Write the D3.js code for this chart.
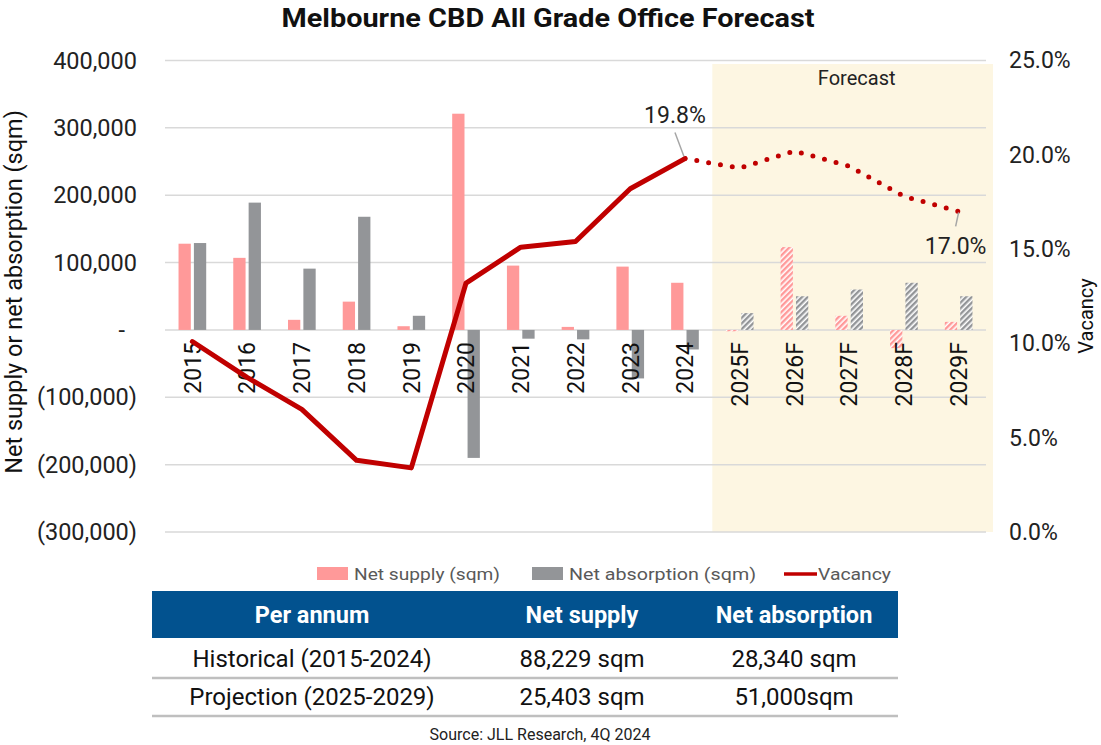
<!DOCTYPE html>
<html>
<head>
<meta charset="utf-8">
<script src="https://cdn.jsdelivr.net/npm/d3@7"></script>
<style>
  html, body { margin: 0; padding: 0; background: #fff; }
  svg { display: block; }
  text { font-family: Roboto, "Noto Sans", sans-serif; }
</style>
</head>
<body>
<script>
// ---------------- DATA ----------------
const categories = ["2015","2016","2017","2018","2019","2020","2021","2022","2023","2024","2025F","2026F","2027F","2028F","2029F"];
const forecastCategories = ["2025F","2026F","2027F","2028F","2029F"];
const netSupply = [128000, 107000, 15000, 42000, 5500, 321000, 95500, 4500, 94000, 70000, -2000, 123000, 21000, -27000, 12000];
const netAbsorption = [129000, 189000, 91000, 168000, 21000, -190000, -13000, -14000, -72000, -29000, 25000, 50000, 60000, 70000, 50000];
const vacancy = [10.1, 8.2, 6.5, 3.8, 3.4, 13.2, 15.1, 15.4, 18.2, 19.8, 19.3, 20.2, 19.4, 17.8, 17.0];
const leftTicks = [-300000, -200000, -100000, 0, 100000, 200000, 300000, 400000];
const rightTicks = [0, 5, 10, 15, 20, 25];
const seriesNames = ["Net supply (sqm)", "Net absorption (sqm)", "Vacancy"];
const tableHeader = ["Per annum", "Net supply", "Net absorption"];
const tableRows = [
  ["Historical (2015-2024)", "88,229 sqm", "28,340 sqm"],
  ["Projection (2025-2029)", "25,403 sqm", "51,000sqm"]
];
const labelledPoints = ["2024", "2029F"];
const titleText = "Melbourne CBD All Grade Office Forecast";
const sourceText = "Source: JLL Research, 4Q 2024";

// ---------------- STYLE ----------------
const W = 1101, H = 745;
const cSupply = "#ff9999", cAbs = "#939598", cVac = "#c00000", cGrid = "#d9d9d9";
const cForecastBg = "#fdf6e2", cHeader = "#02528f";

const svg = d3.select("body").append("svg").attr("width", W).attr("height", H);

const defs = svg.append("defs");
function hatch(id, color) {
  const p = defs.append("pattern").attr("id", id).attr("patternUnits", "userSpaceOnUse")
    .attr("width", 4).attr("height", 4).attr("patternTransform", "rotate(45)");
  p.append("rect").attr("width", 4).attr("height", 4).attr("fill", "#fff");
  p.append("rect").attr("width", 2.4).attr("height", 4).attr("fill", color);
}
hatch("hSupply", cSupply);
hatch("hAbs", cAbs);

// ---------------- SCALES ----------------
const x0 = d3.scaleBand().domain(categories).range([165, 986]).padding(0);
const x1 = d3.scaleBand().domain(["s", "a"]).range([0, x0.bandwidth()]).paddingInner(0.2).paddingOuter(0.88);
const yL = d3.scaleLinear().domain([-300000, 400000]).range([532, 60.5]);
const yR = d3.scaleLinear().domain([0, 25]).range([532, 60.5]);
const xc = c => x0(c) + x0.bandwidth() / 2;

// Forecast background
const f0 = x0(forecastCategories[0]);
svg.append("rect").attr("x", f0).attr("y", yL(400000) + 3.5)
  .attr("width", x0.range()[1] + 7 - f0).attr("height", yL(-300000) - yL(400000) - 3.5)
  .attr("fill", cForecastBg);
svg.append("text").attr("x", f0 + (x0.range()[1] + 7 - f0) / 2 + 4).attr("y", 85)
  .attr("text-anchor", "middle").attr("font-size", 20).attr("fill", "#222").text("Forecast");

// Gridlines
svg.append("g").selectAll("line").data(leftTicks).join("line")
  .attr("x1", x0.range()[0]).attr("x2", x0.range()[1])
  .attr("y1", d => yL(d)).attr("y2", d => yL(d))
  .attr("stroke", cGrid).attr("stroke-width", 1.5);

// Left axis
const fmt = d3.format(",");
const leftAxis = d3.axisLeft(yL).tickValues(leftTicks).tickSize(0).tickPadding(0)
  .tickFormat(d => d > 0 ? fmt(d) : d < 0 ? "(" + fmt(-d) + ")" : "-");
const gL = svg.append("g").attr("transform", "translate(137,0)").call(leftAxis);
gL.select(".domain").remove();
gL.selectAll("text").attr("font-size", 23.5).attr("fill", "#222")
  .attr("font-family", "Roboto, sans-serif")
  .attr("dx", d => d === 0 ? -12 : 0);

// Right axis
const rightAxis = d3.axisRight(yR).tickValues(rightTicks).tickSize(0).tickPadding(0)
  .tickFormat(d => d3.format(".1f")(d) + "%");
const gR = svg.append("g").attr("transform", "translate(1009,0)").call(rightAxis);
gR.select(".domain").remove();
gR.selectAll("text").attr("font-size", 23).attr("fill", "#222").attr("font-family", "Roboto, sans-serif");

// Axis titles
svg.append("text").attr("transform", "translate(22,292) rotate(-90)")
  .attr("text-anchor", "middle").attr("font-size", 23.5).attr("fill", "#111")
  .text("Net supply or net absorption (sqm)");
svg.append("text").attr("transform", "translate(1093,316) rotate(-90)")
  .attr("text-anchor", "middle").attr("font-size", 20).attr("fill", "#111")
  .text("Vacancy");

// Bars
const isF = c => forecastCategories.includes(c);
const barG = svg.append("g");
categories.forEach((c, i) => {
  const f = isF(c);
  [["s", netSupply[i], f ? "url(#hSupply)" : cSupply], ["a", netAbsorption[i], f ? "url(#hAbs)" : cAbs]].forEach(([k, v, fill]) => {
    barG.append("rect")
      .attr("x", x0(c) + x1(k)).attr("width", x1.bandwidth())
      .attr("y", Math.min(yL(v), yL(0))).attr("height", Math.abs(yL(v) - yL(0)))
      .attr("fill", fill);
  });
});

// Category labels
svg.append("g").selectAll("text").data(categories).join("text")
  .attr("transform", d => `translate(${xc(d)},342) rotate(-90)`)
  .attr("text-anchor", "end").attr("dy", "0.36em")
  .attr("font-size", 23).attr("fill", "#111").text(d => d);

// Vacancy line
const vacPts = categories.map((c, i) => ({ c, v: vacancy[i] }));
const line = d3.line().x(d => xc(d.c)).y(d => yR(d.v));
const histIdx = categories.indexOf(forecastCategories[0]) - 1;
svg.append("path").datum(vacPts.slice(0, histIdx + 1)).attr("d", line)
  .attr("fill", "none").attr("stroke", cVac).attr("stroke-width", 5)
  .attr("stroke-linejoin", "round").attr("stroke-linecap", "round");
svg.append("path").datum(vacPts.slice(histIdx)).attr("d", line)
  .attr("fill", "none").attr("stroke", cVac).attr("stroke-width", 5)
  .attr("stroke-dasharray", "0 12").attr("stroke-linecap", "round");

// Data labels
const p1 = vacPts.find(d => d.c === labelledPoints[0]);
svg.append("line").attr("x1", xc(p1.c) - 10).attr("y1", yR(p1.v) - 26)
  .attr("x2", xc(p1.c) - 1).attr("y2", yR(p1.v) - 2).attr("stroke", "#a6a6a6").attr("stroke-width", 1.5);
svg.append("text").attr("x", xc(p1.c) - 10).attr("y", yR(p1.v) - 36)
  .attr("text-anchor", "middle").attr("font-size", 23).attr("fill", "#222").text(d3.format(".1f")(p1.v) + "%");
const p2 = vacPts.find(d => d.c === labelledPoints[1]);
svg.append("line").attr("x1", xc(p2.c)).attr("y1", yR(p2.v) + 1)
  .attr("x2", xc(p2.c) - 3).attr("y2", yR(p2.v) + 15).attr("stroke", "#a6a6a6").attr("stroke-width", 1.5);
svg.append("text").attr("x", xc(p2.c) - 3).attr("y", yR(p2.v) + 43)
  .attr("text-anchor", "middle").attr("font-size", 23).attr("fill", "#222").text(d3.format(".1f")(p2.v) + "%");

// Title
svg.append("text").attr("x", 548).attr("y", 27).attr("text-anchor", "middle")
  .attr("font-size", 25).attr("font-weight", "bold").attr("fill", "#111")
  .attr("textLength", 533).attr("lengthAdjust", "spacingAndGlyphs").text(titleText);

// Legend
const lg = svg.append("g").attr("font-size", 17).attr("fill", "#595959");
const legendX = [317, 532, 784];
const legendW = [146, 187, 73];
lg.append("rect").attr("x", legendX[0]).attr("y", 567).attr("width", 31).attr("height", 13).attr("fill", cSupply);
lg.append("rect").attr("x", legendX[1]).attr("y", 567).attr("width", 31).attr("height", 13).attr("fill", cAbs);
lg.append("line").attr("x1", legendX[2]).attr("x2", legendX[2] + 33).attr("y1", 574).attr("y2", 574)
  .attr("stroke", cVac).attr("stroke-width", 3.5);
lg.selectAll("text").data(seriesNames).join("text")
  .attr("x", (d, i) => legendX[i] + (i === 2 ? 34 : 37)).attr("y", 580)
  .attr("font-family", "'DejaVu Sans', sans-serif")
  .attr("textLength", (d, i) => legendW[i]).attr("lengthAdjust", "spacingAndGlyphs")
  .text(d => d);

// Table
const tX0 = 152, tX1 = 898;
const colCenters = [312, 582, 794];
svg.append("rect").attr("x", tX0).attr("y", 591).attr("width", tX1 - tX0).attr("height", 47).attr("fill", cHeader);
svg.append("g").selectAll("text").data(tableHeader).join("text")
  .attr("x", (d, i) => colCenters[i]).attr("y", 623).attr("text-anchor", "middle")
  .attr("font-size", 23.5).attr("font-weight", "bold").attr("fill", "#fff").text(d => d);
const rowBase = [667, 705];
const rowLine = [678, 716];
tableRows.forEach((r, ri) => {
  svg.append("g").selectAll("text").data(r).join("text")
    .attr("x", (d, i) => colCenters[i]).attr("y", rowBase[ri]).attr("text-anchor", "middle")
    .attr("font-size", 24).attr("fill", "#111").text(d => d);
  svg.append("line").attr("x1", tX0).attr("x2", tX1).attr("y1", rowLine[ri]).attr("y2", rowLine[ri])
    .attr("stroke", "#bfbfbf").attr("stroke-width", 2.5);
});
svg.append("text").attr("x", 540).attr("y", 740).attr("text-anchor", "middle")
  .attr("font-size", 16).attr("fill", "#222").text(sourceText);
</script>
</body>
</html>
